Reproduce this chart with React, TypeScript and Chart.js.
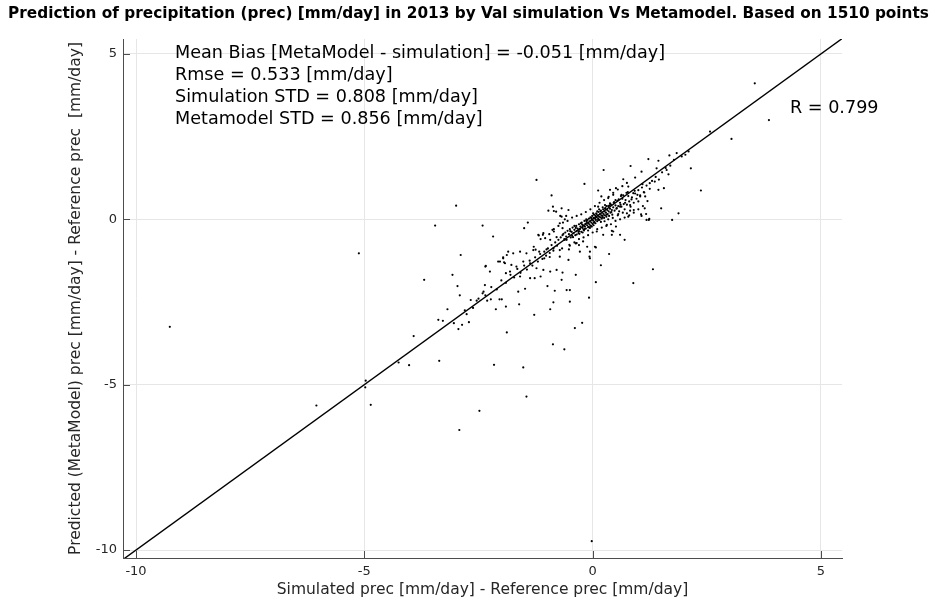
import React, { useEffect, useRef } from 'react';
import { Chart, registerables } from 'chart.js';

Chart.register(...registerables);

const titleText =
  'Prediction of precipitation (prec) [mm/day] in 2013 by Val simulation Vs Metamodel. Based on 1510 points';
const xAxisTitle = 'Simulated prec [mm/day] - Reference prec [mm/day]';
const yAxisTitle = 'Predicted (MetaModel) prec [mm/day] - Reference prec  [mm/day]';
const statLines = [
  'Mean Bias [MetaModel - simulation] = -0.051 [mm/day]',
  'Rmse = 0.533 [mm/day]',
  'Simulation STD = 0.808 [mm/day]',
  'Metamodel STD = 0.856 [mm/day]',
];
const rText = 'R = 0.799';

const xLimits = [-10.285, 5.46];
const yLimits = [-10.24, 5.45];
const tickValues = [-10, -5, 0, 5];
const fitLineX = [-10.3, 5.5];
const fitLineY = [-10.3, 5.5];

// scattered points
const outlierX = [
  -9.26, -5.12, -3.69, -3.92, -4.25, -4.02, -4.97, -4.98, -4.86, -6.05, -0.02,
  -2.89, -3.36, -2.16, -1.52, -1.45, -2.48, -2.92, 0.36, 0.18, 0.07, -0.08, -0.23, -0.39, -0.62, -0.87,
  0.89, -0.5, -0.5, -0.57, -0.93, -1.28, -0.86, -1.88, -3.38, -0.37, -0.66, -0.83, -0.99, -1.27, -1.48,
  -1.61, -1.9, -2.12,
  -3.07, -2.96, -2.91, -3.18, -3.28, -3.04, -2.86, -2.94, -2.71, -2.76, -2.67, -2.54, -2.39, -2.36,
  -2.34, -2.31, -2.23, -2.04, -1.99, -2.18, -1.63, -1.9, -1.94, -2.03, -1.88, -1.85, -1.96, -2.25, -2.41,
  -1.23, -0.18, -0.9, -0.87, -0.97, -0.8, -0.53, -1.42, -1.5, -2.41, -0.68, -0.61, -0.68, -0.58, -0.72,
  -0.66, -0.88, -1.08, -1.19, -1.04, -0.93, -0.79, -0.61, -0.51, -0.35, -0.21, -0.12, -0.28, -0.72,
  -0.86, -1.01, -1.17, -1.3, -1.45, -1.59, -1.74, -1.96, -2.07, -1.92, -1.78, -1.67, -1.52, -1.37,
  -1.23, -1.08, -0.93, -0.79, -0.53, -2.35, -1.81, -1.59, -1.37, -1.14, -0.68, -0.06, -0.06, 0.42,
  0.45, 0.05, 0.09, 0.23, 0.31,
  1.22, 1.44, 1.68, 1.84, 2.03, 2.15, 2.37, 1.88, 1.74, 1.5, 0.83, 0.24, 1.07, 1.4, 1.62, 1.66, 0.67,
  0.93, 1.25, 1.36, 1.44, 1.56, 1.09, 0.78, 0.51, 0.38, 0.12, 0.89, 1.13, 1.0, 0.82, 0.6, 0.9, 1.14,
  1.17, 1.07, 1.23, 0.78, 0.56, 0.42, 0.6, 0.12, 0.27, 0.01, 0.34, 0.45, 0.63, 0.19,
  -3.45, -2.99, 1.32, 1.18, 1.24, 1.15, 1.04, 0.7, 0.51, 0.75, 1.06, -0.3, -0.37, -0.52, -0.67, 0.07,
  -0.07, -1.06, -0.94, -0.72, -1.29, -1.25, -1.18, -1.09, -1.14, -0.85, -0.85, -0.71,
  3.55, 3.86, 3.04, 2.57,
];
const outlierY = [
  -3.25, -1.03, -1.83, -3.53, -4.33, -4.41, -4.88, -5.08, -5.61, -5.63, -9.73,
  -1.08, -4.28, -4.4, -4.48, -5.36, -5.79, -6.37, -1.05, -1.39, -1.9, -2.37, -3.13, -3.29, -3.93, -3.78,
  -1.93, -2.49, -2.14, -2.14, -2.72, -2.89, -2.51, -3.42, -3.04, -1.68, -1.61, -2.16, -2.02, -1.78, -2.1,
  -2.57, -2.64, -2.72,
  -1.68, -2.02, -2.3, -2.72, -3.07, -3.14, -3.19, -3.32, -3.11, -2.87, -2.44, -2.46, -2.19, -1.99,
  -1.41, -2.46, -2.42, -2.42, -2.42, -0.52, -2.19, -1.63, -1.3, -1.28, -1.08, -0.98, -1.15, -1.58, -2.24,
  1.19, 1.07, 0.72, 0.38, 0.26, 0.23, 0.28, -0.1, -0.27, -0.19, 0.08, 0.0, 0.33, 0.1, -0.12,
  -0.27, -0.32, -0.42, -0.47, -0.57, -0.62, -0.54, -0.62, -0.77, -0.72, -0.67, -0.83, -0.98, -0.93,
  -0.88, -0.91, -0.98, -0.93, -1.03, -0.98, -1.03, -1.18, -1.28, -1.33, -1.38, -1.43, -1.28, -1.33,
  -1.48, -1.53, -1.58, -1.53, -1.23, -1.43, -1.58, -1.73, -1.78, -1.73, -1.83, -0.98, -1.18, -0.47,
  -0.37, -0.83, -0.37, -0.47, -0.17,
  1.82, 1.77, 1.93, 2.0, 1.95, 1.54, 0.87, 0.18, -0.02, 0.33, 1.61, 1.49, 1.44, 1.54, 1.49, 1.36, 1.21,
  1.26, 1.09, 1.14, 0.89, 0.94, 1.06, 0.99, 0.94, 0.89, 0.87, 0.79, 0.81, 0.54, 0.43, 0.38, 0.28, 0.33,
  0.16, 0.1, -0.02, 0.08, 0.16, -0.35, -0.47, 0.38, 0.43, 0.18, 0.64, 0.74, 0.74, 0.69,
  -0.19, 0.41, -1.51, -0.02, 0.01, 0.69, 0.69, -0.62, -0.22, 0.18, 0.15, -0.78, -0.73, -0.91, -0.88, -0.85,
  -1.13, -1.18, -1.14, -1.13, -0.83, -0.92, -0.49, -0.47, -0.6, -0.37, 0.25, 0.1,
  4.11, 3.0, 2.43, 2.65,
];

// dense cloud near the origin
const coreX = [
  -0.7, -0.66, -0.62, -0.6, -0.58, -0.55, -0.52, -0.5, -0.48, -0.46, -0.44, -0.42, -0.4, -0.38, -0.36,
  -0.35, -0.33, -0.31, -0.3, -0.28, -0.27, -0.25, -0.24, -0.22, -0.21, -0.2, -0.18, -0.17, -0.16, -0.15,
  -0.13, -0.12, -0.11, -0.1, -0.09, -0.08, -0.07, -0.06, -0.05, -0.04, -0.03, -0.02, -0.01, 0.0, 0.01,
  0.02, 0.03, 0.04, 0.05, 0.06, 0.07, 0.08, 0.09, 0.1, 0.11, 0.12, 0.13, 0.14, 0.15, 0.16, 0.17, 0.18,
  0.19, 0.2, 0.21, 0.22, 0.23, 0.24, 0.25, 0.26, 0.27, 0.28, 0.29, 0.3, 0.32, 0.33, 0.34, 0.35, 0.36,
  0.38, 0.39, 0.4, 0.42, 0.43, 0.45, 0.46, 0.48, 0.5, 0.52, 0.54, 0.56, 0.58, 0.6, 0.63, 0.65, 0.68,
  0.7, 0.72, 0.75, 0.78, 0.8, 0.83, 0.86, 0.9, 0.93, 0.96, 1.0, 1.04, 1.08, 1.12, 1.18, 1.25, 1.3,
  1.38, 1.45, 1.52, 1.6, 1.7, 1.78, 1.95, 2.1,
  -0.75, -0.78, -0.82, -0.86, -0.9, -0.94, -0.98, -1.02, -1.06, -1.1, -1.15, -1.2, -1.26, -1.32, -1.38,
  -1.44, -1.5, -1.58, -1.65, -1.72, -1.8, -1.9, -2.0, -2.1, -2.22, -2.35, -2.5, -2.62, -2.8,
  -0.45, -0.4, -0.35, -0.3, -0.26, -0.22, -0.18, -0.14, -0.1, -0.06, -0.02, 0.02, 0.06, 0.1, 0.14,
  0.18, 0.22, 0.26, 0.3, 0.34, 0.38, 0.44, 0.5, 0.55, 0.62, 0.66, 0.74, 0.82,
  -0.95, -0.85, -0.75, -0.65, -0.55, -0.45, -0.35, -0.25, -0.15, -0.05, 0.05, 0.15, 0.25, 0.35, 0.45,
  0.55, 0.65, 0.75,
  -0.5, -0.4, -0.3, -0.2, -0.1, 0.0, 0.1, 0.2, 0.3, 0.4, 0.5, 0.6, 0.7, 0.8, 0.9, 1.0, 1.1, 1.2,
  -0.64, -0.57, -0.49, -0.43, -0.37, -0.29, -0.23, -0.19, -0.14, -0.08, -0.03, 0.03, 0.08, 0.12, 0.17,
  0.21, 0.27, 0.31, 0.37, 0.41, 0.47, 0.53, 0.57, 0.61, 0.67, 0.71, 0.77, 0.85, 0.92, 0.98,
];
const coreY = [
  -0.55, -0.48, -0.6, -0.4, -0.52, -0.35, -0.45, -0.3, -0.55, -0.38, -0.25, -0.42, -0.32, -0.48, -0.2,
  -0.36, -0.28, -0.42, -0.15, -0.3, -0.22, -0.38, -0.1, -0.26, -0.18, -0.32, -0.05, -0.22, -0.14, -0.28,
  -0.08, -0.18, -0.02, -0.24, -0.12, 0.02, -0.16, -0.06, 0.06, -0.2, -0.1, 0.0, 0.1, -0.14, -0.04,
  0.04, 0.14, -0.08, 0.02, 0.1, -0.02, 0.18, 0.06, -0.06, 0.12, 0.02, 0.22, 0.08, -0.02, 0.16, 0.06, 0.26,
  0.12, 0.02, 0.2, 0.1, 0.3, 0.16, 0.04, 0.24, 0.12, 0.34, 0.2, 0.08, 0.28, 0.16, 0.4, 0.24, 0.1,
  0.32, 0.2, 0.44, 0.28, 0.14, 0.36, 0.5, 0.26, 0.42, 0.32, 0.56, 0.4, 0.24, 0.5, 0.38, 0.62, 0.46,
  0.3, 0.58, 0.44, 0.7, 0.54, 0.38, 0.66, 0.5, 0.78, 0.62, 0.88, 0.72, 0.96, 0.82, 1.02, 0.92, 1.16,
  1.28, 1.2, 1.42, 1.55, 1.62, 1.8, 1.9, 2.05,
  -0.62, -0.8, -0.7, -0.95, -0.78, -1.02, -0.88, -1.1, -0.98, -1.2, -1.05, -1.28, -1.15, -1.4, -1.25,
  -1.52, -1.4, -1.62, -1.5, -1.76, -1.68, -1.92, -1.85, -2.12, -2.05, -2.3, -2.4, -2.68, -2.75,
  -0.5, -0.2, -0.46, -0.36, -0.12, -0.4, -0.3, 0.0, -0.34, -0.26, -0.22, -0.18, -0.12, 0.24, 0.3,
  -0.08, 0.36, -0.06, 0.4, 0.0, 0.48, 0.04, 0.58, 0.12, 0.7, 0.2, 0.8, 0.26,
  -0.45, -0.3, -0.2, -0.1, -0.05, 0.05, 0.1, 0.15, 0.22, 0.3, 0.4, 0.5, 0.58, 0.68, 0.8,
  0.9, 1.0, 1.1,
  -0.8, -0.7, -0.6, -0.55, -0.48, -0.4, -0.3, -0.25, -0.2, -0.15, -0.05, 0.0, 0.05, 0.12, 0.2, 0.3, 0.4, 0.55,
  -0.44, -0.62, -0.36, -0.54, -0.26, -0.44, -0.16, -0.34, -0.04, -0.24, 0.04, -0.1, 0.16, -0.02, 0.24,
  0.06, 0.32, 0.14, 0.42, 0.22, 0.52, 0.34, 0.6, 0.44, 0.72, 0.5, 0.82, 0.6, 0.86, 0.74,
];

const AXIS_COLOR = '#4d4d4d';
const TEXT_COLOR = '#262626';
const FONT = '"DejaVu Sans", sans-serif';

const decorPlugin = {
  id: 'decor',
  afterDraw(chart: any) {
    const { ctx, chartArea, scales } = chart;
    const xs = scales.x;
    const ys = scales.y;
    ctx.save();
    // inward tick marks
    ctx.strokeStyle = AXIS_COLOR;
    ctx.lineWidth = 1;
    ctx.beginPath();
    tickValues.forEach((v) => {
      const px = Math.round(xs.getPixelForValue(v)) + 0.5;
      ctx.moveTo(px, chartArea.bottom);
      ctx.lineTo(px, chartArea.bottom - 7);
      const py = Math.round(ys.getPixelForValue(v)) + 0.5;
      ctx.moveTo(chartArea.left, py);
      ctx.lineTo(chartArea.left + 7, py);
    });
    ctx.stroke();

    // title
    ctx.fillStyle = '#000';
    ctx.font = 'bold 15.3px ' + FONT;
    ctx.textAlign = 'center';
    ctx.textBaseline = 'middle';
    ctx.fillText(titleText, chart.width / 2 + 2, 14);

    // statistics text
    ctx.fillStyle = '#000';
    ctx.font = '17.6px ' + FONT;
    ctx.textAlign = 'left';
    statLines.forEach((line, i) => {
      ctx.fillText(line, chartArea.left + 52, chartArea.top + 14 + i * 22);
    });
    ctx.fillText(rText, chartArea.left + 667, chartArea.top + 69);
    ctx.restore();
  },
};

export default function App() {
  const ref = useRef<HTMLCanvasElement | null>(null);

  useEffect(() => {
    document.body.style.margin = '0';
    if (!ref.current) return;
    const points = outlierX
      .map((x, i) => ({ x, y: outlierY[i] }))
      .concat(coreX.map((x, i) => ({ x, y: coreY[i] })));
    const fit = fitLineX.map((x, i) => ({ x, y: fitLineY[i] }));

    const chart = new Chart(ref.current, {
      type: 'scatter',
      data: {
        datasets: [
          {
            data: points,
            pointRadius: 1.1,
            pointBackgroundColor: '#000',
            pointBorderWidth: 0,
            pointHoverRadius: 1.1,
          },
          {
            data: fit,
            showLine: true,
            borderColor: '#000',
            borderWidth: 1.4,
            pointRadius: 0,
          },
        ],
      },
      plugins: [decorPlugin],
      options: {
        responsive: false,
        animation: false,
        events: [],
        layout: { padding: { top: 39, right: 91, left: 0, bottom: 0 } },
        plugins: { legend: { display: false }, tooltip: { enabled: false }, title: { display: false } },
        scales: {
          x: {
            type: 'linear',
            min: xLimits[0],
            max: xLimits[1],
            afterFit: (s: any) => {
              s.height = 44;
            },
            afterBuildTicks: (s: any) => {
              s.ticks = tickValues.map((v) => ({ value: v }));
            },
            ticks: {
              includeBounds: false,
              color: TEXT_COLOR,
              font: { family: FONT, size: 13 },
              padding: 6,
              maxRotation: 0,
            },
            grid: { color: '#e6e6e6', lineWidth: 1, drawTicks: false },
            border: { display: true, color: AXIS_COLOR, width: 1 },
            title: {
              display: true,
              text: xAxisTitle,
              color: TEXT_COLOR,
              font: { family: FONT, size: 15.5 },
              padding: { top: 0, bottom: 2.7 },
            },
          },
          y: {
            type: 'linear',
            min: yLimits[0],
            max: yLimits[1],
            afterFit: (s: any) => {
              s.width = 123;
            },
            afterBuildTicks: (s: any) => {
              s.ticks = tickValues.map((v) => ({ value: v }));
            },
            ticks: {
              includeBounds: false,
              color: TEXT_COLOR,
              font: { family: FONT, size: 13 },
              padding: 6,
            },
            grid: { color: '#e6e6e6', lineWidth: 1, drawTicks: false },
            border: { display: true, color: AXIS_COLOR, width: 1 },
            title: {
              display: true,
              text: yAxisTitle,
              color: TEXT_COLOR,
              font: { family: FONT, size: 15.5 },
              padding: { top: 66.7, bottom: 0 },
            },
          },
        },
      },
    });
    return () => chart.destroy();
  }, []);

  return (
    <div style={{ position: 'absolute', left: 0, top: 0, width: 933, height: 602, background: '#fff' }}>
      <canvas ref={ref} width={933} height={602} />
    </div>
  );
}
